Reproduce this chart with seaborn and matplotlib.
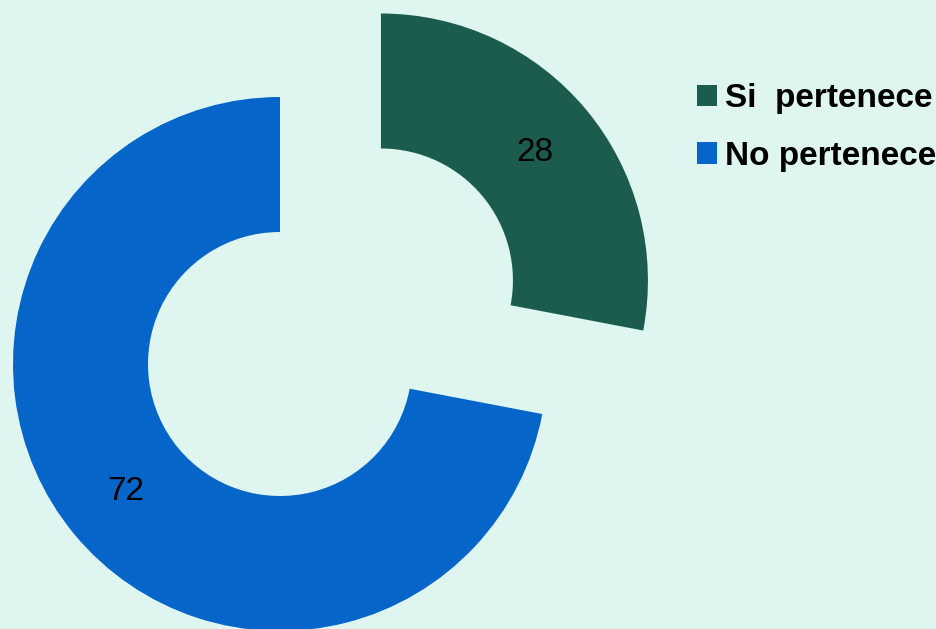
import matplotlib.pyplot as plt
import seaborn as sns
from matplotlib.patches import Patch

# data
labels = ['Si  pertenece', 'No pertenece']
values = [28, 72]
colors = ['#1c5c4e', '#0565c8']
bg = '#def5f0'

sns.set_style('white', rc={'figure.facecolor': bg, 'axes.facecolor': bg})
plt.rcParams['font.family'] = ['Liberation Sans', 'DejaVu Sans']

fig = plt.figure(figsize=(9.37, 6.29), dpi=100)
ax = fig.add_axes([0, 0, 1, 1])

# pixel-based coords: donut centre (280, 265) from bottom, radius 267
wedges, texts, autotexts = ax.pie(
    values, colors=colors, startangle=90, counterclock=False,
    center=(280, 265), radius=267, explode=[131, 0],
    wedgeprops=dict(width=135, linewidth=0),
    autopct=lambda p: '%d' % round(p), pctdistance=0.75,
    textprops=dict(fontsize=24, color='black'))

ax.set_xlim(0, 937)
ax.set_ylim(0, 629)
ax.set_aspect('equal')
ax.axis('off')

handles = [Patch(facecolor=c, edgecolor='none') for c in colors]
leg = fig.legend(handles, labels, loc='upper left', bbox_to_anchor=(697 / 937, 1 - 83 / 629),
                 frameon=False, handlelength=0.6, handleheight=0.6,
                 handletextpad=0.25, labelspacing=0.8, borderaxespad=0, borderpad=0,
                 prop=dict(size=24, weight='bold'), labelcolor='black')

fig.savefig('out.png', dpi=100, facecolor=bg)
